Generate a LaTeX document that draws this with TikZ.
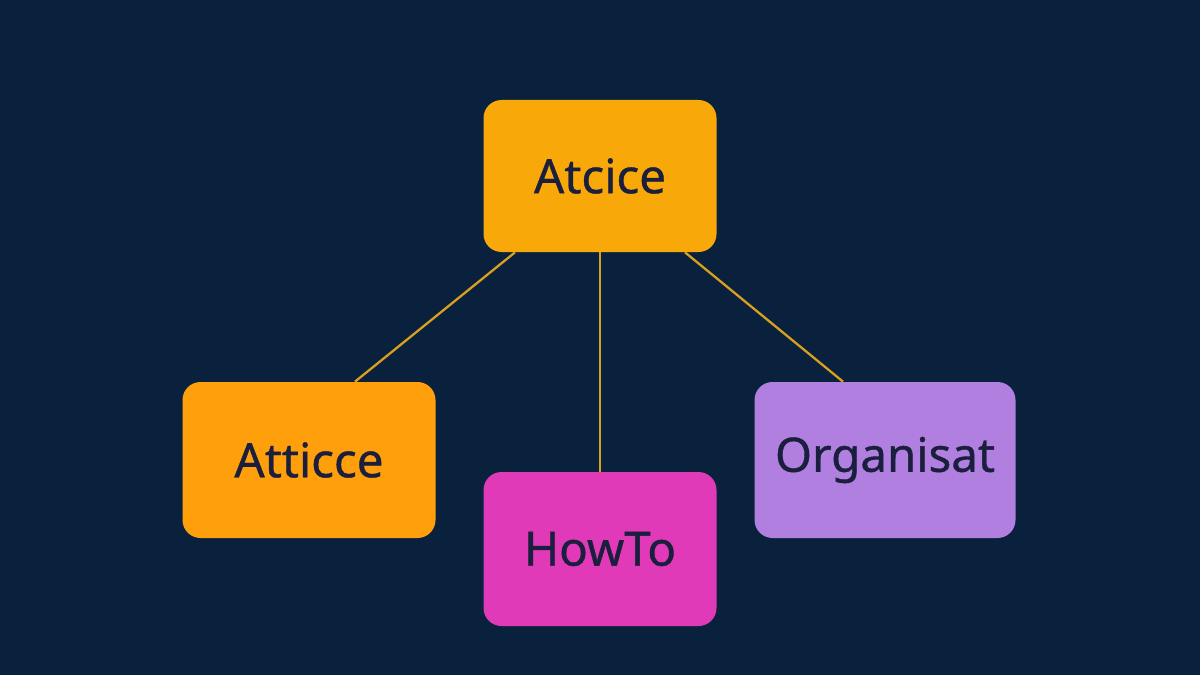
\documentclass[tikz,border=0pt]{standalone}
\usepackage{fontspec}
\setmainfont{Noto Sans}[FakeBold=0.8]
\usetikzlibrary{calc}
\definecolor{bg}{HTML}{0A213D}
\definecolor{cTop}{HTML}{F9A80A}
\definecolor{cLeft}{HTML}{FF9F0C}
\definecolor{cMid}{HTML}{E03AB8}
\definecolor{cRight}{HTML}{B07FE0}
\definecolor{cLine}{HTML}{D9A020}
\definecolor{cText}{HTML}{1A1F3D}
\tikzset{
 box/.style={rounded corners=0.36cm, inner sep=0pt, font=\fontsize{27}{30}\selectfont, text=cText},
 link/.style={draw=cLine, line width=1.3pt}
}
\begin{document}
\begin{tikzpicture}
\fill[bg] (0,0) rectangle (24,13.5);
\useasboundingbox (0,0) rectangle (24,13.5);
\node[box, fill=cTop, minimum width=4.66cm, minimum height=3.04cm] (top) at (12,9.98) {Atcice};
\node[box, fill=cLeft, minimum width=5.06cm, minimum height=3.12cm] (left) at (6.18,4.3) {Atticce};
\node[box, fill=cMid, minimum width=4.66cm, minimum height=3.08cm] (mid) at (12,2.52) {HowTo};
\node[box, fill=cRight, minimum width=5.22cm, minimum height=3.12cm] (right) at (17.7,4.3) {Organisat};
\draw[link] ($(top.south)+(-1.7,0)$) -- ($(left.north)+(0.92,0)$);
\draw[link] (top.south) -- (mid.north);
\draw[link] ($(top.south)+(1.7,0)$) -- ($(right.north)+(-0.84,0)$);
\end{tikzpicture}
\end{document}
